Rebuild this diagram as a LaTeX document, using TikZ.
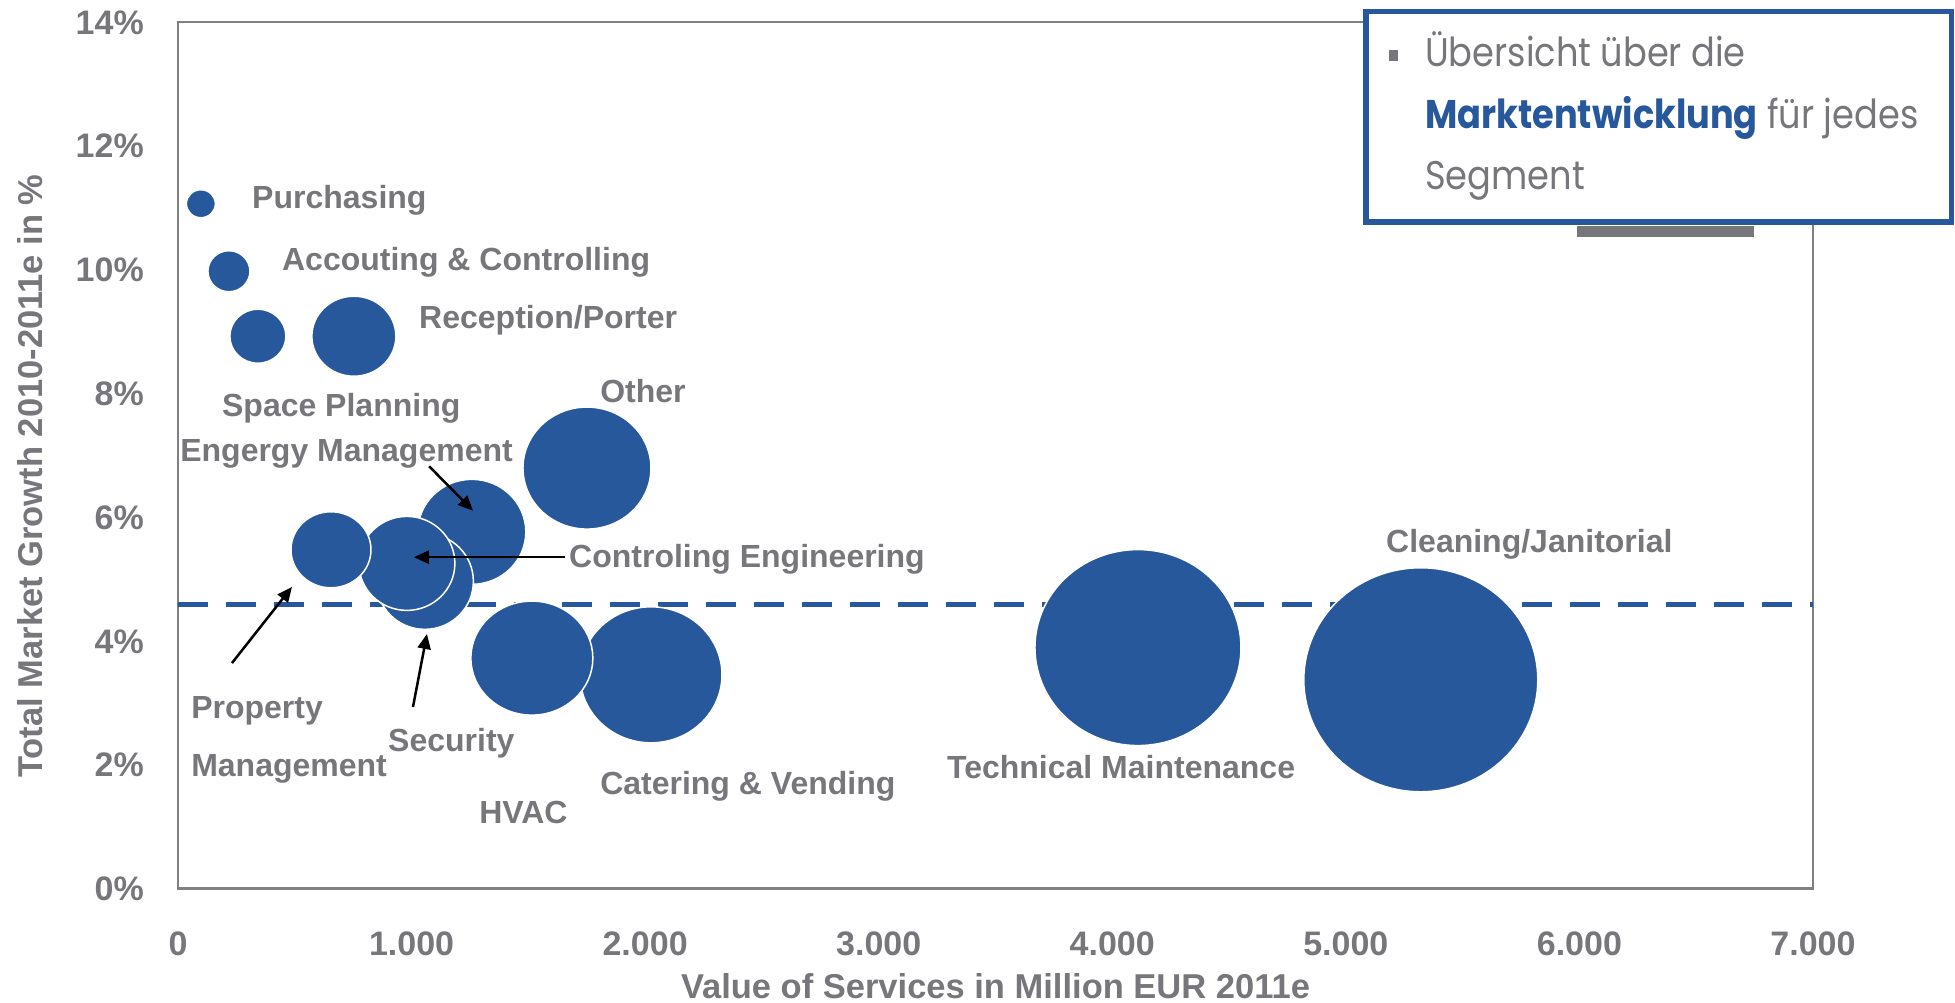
\documentclass[tikz,border=0pt]{standalone}
\usepackage{fontspec}
\setmainfont{Liberation Sans}
\newfontfamily\noteFont[FakeStretch=0.88]{Poppins}
\usetikzlibrary{arrows.meta,shapes.geometric}
\definecolor{chartBlue}{RGB}{38,88,155}
\definecolor{chartGray}{RGB}{119,119,123}
\definecolor{frameGray}{RGB}{128,128,128}

\begin{document}
\begin{tikzpicture}
[x=0.23357pt, y=61.9pt,
  bubble/.style={shape=ellipse,fill=chartBlue,draw=white,line width=1.5pt,inner sep=0pt},%
  segLabel/.style={anchor=base west,inner sep=0pt,text=chartGray,font=\fontsize{32}{38}\selectfont\bfseries},%
  tickLabel/.style={inner sep=0pt,text=chartGray,font=\fontsize{34}{40}\selectfont\bfseries},%
  axisTitle/.style={inner sep=0pt,text=chartGray,font=\fontsize{34.5}{40}\selectfont\bfseries},%
  pointer/.style={-{Triangle[length=15pt,width=13pt]},line width=2.5pt,black}]
\useasboundingbox (-178pt,-114pt) rectangle (1777pt,889pt);
%% frame and axes
\draw[frameGray,line width=2pt] (0,0) rectangle (7000,14);
\draw[frameGray,line width=3pt] (0,0) -- (7000,0);
\foreach \v in {0,2,...,14}
{
  \node[tickLabel,anchor=east] (yt\v) at ([xshift=-34pt]0,\v) {\v\%};
}
\foreach \v/\t in {0/0, 1000/1.000, 2000/2.000, 3000/3.000, 4000/4.000, 5000/5.000, 6000/6.000, 7000/7.000}
{
  \node[tickLabel] (xt\v) at ([yshift=-54.5pt]\v,0) {\t};
}
\node[axisTitle] (xTitle) at ([yshift=-97pt]3500,0) {Value of Services in Million EUR 2011e};
\node[axisTitle,rotate=90] (yTitle) at (-148pt,413pt) {Total Market Growth 2010-2011e in \%};
%% market average
\coordinate (avgL) at (0,4.6);
\coordinate (avgR) at (7000,4.6);
\draw[chartBlue,line width=5pt,dash pattern=on 30pt off 18pt] (avgL) -- (avgR);
%% bubbles
\foreach \name/\x/\y/\w/\h in {purch/98/11.07/29/28, acct/218/9.98/42/41, space/342/8.93/56/54,
  recep/753/8.93/84/80, other/1751/6.8/128/122, cater/2025/3.46/142/136, hvac/1515/3.73/122/114,
  energy/1258/5.77/108/105, secur/1057/4.97/97/96, ctrl/980/5.26/96/94, prop/655/5.48/80/76,
  tech/4110/3.9/206/196, clean/5321/3.38/234/224}
{
  \node[bubble,minimum width=\w pt,minimum height=\h pt] (\name) at (\x,\y) {};
}
%% segment labels
\foreach \name/\x/\y/\txt in {purchL/317/10.99/Purchasing, acctL/445/9.99/Accouting \& Controlling,
  recepL/1032/9.05/{Reception/Porter}, spaceL/188/7.63/Space Planning, energyL/9/6.90/Engergy Management,
  otherL/1807/7.86/Other, ctrlL/1674/5.2/Controling Engineering, propL/56/2.75/Property,
  propLb/56/1.82/Management, securL/899/2.22/Security, hvacL/1289/1.05/HVAC,
  caterL/1807/1.52/Catering \& Vending, techL/3292/1.78/Technical Maintenance,
  cleanL/5172/5.43/{Cleaning/Janitorial}}
{
  \node[segLabel] (\name) at (\x,\y) {\txt};
}
%% pointers
\coordinate (energyFrom) at (1075,6.83);
\coordinate (energyTo) at (1263,6.11);
\coordinate (ctrlFrom) at (1657,5.36);
\coordinate (ctrlTo) at (1010,5.36);
\coordinate (securFrom) at (1006,2.94);
\coordinate (securTo) at (1066,4.12);
\coordinate (propFrom) at (231,3.65);
\coordinate (propTo) at (488,4.88);
\foreach \startnode/\endnode in {energyFrom/energyTo, ctrlFrom/ctrlTo, securFrom/securTo, propFrom/propTo}
{
  \draw[pointer] (\startnode) -- (\endnode);
}
%% note box
\fill[chartGray] (1399pt,652pt) rectangle (1576pt,663pt);
\node[draw=chartBlue,fill=white,line width=5.5pt,minimum width=585.5pt,minimum height=210.5pt,inner sep=0pt] (note) at (1480.5pt,772pt) {};
\fill[chartGray] (1210.5pt,828pt) rectangle (1220pt,839pt);
\node[anchor=base west,inner sep=0pt,align=left,text=chartGray,font=\noteFont\fontsize{40}{61.5}\selectfont] (noteText) at (1247pt,699pt)
  {Übersicht über die\\{\color{chartBlue}\bfseries Marktentwicklung} für jedes\\Segment};
\end{tikzpicture}
\end{document}
